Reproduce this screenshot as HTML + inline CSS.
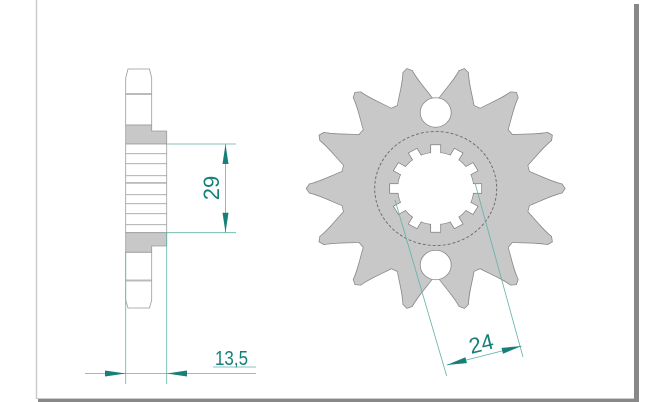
<!DOCTYPE html>
<html><head><meta charset="utf-8"><style>
html,body{margin:0;padding:0;background:#fff;}
svg{display:block;}
text{font-family:"Liberation Sans",sans-serif;}
</style></head><body>
<svg width="670" height="402" viewBox="0 0 670 402" xmlns="http://www.w3.org/2000/svg">
<defs>
<path id="tooth" d="M82,-22 C100,-16 112,-8 126,-4.5 L129,0 L126,4.5 C112,8 100,16 82,22 Z"/>
<g id="gear">
<circle r="95"/>
<use href="#tooth"/>
<use href="#tooth" transform="rotate(25.714)"/>
<use href="#tooth" transform="rotate(51.429)"/>
<use href="#tooth" transform="rotate(77.143)"/>
<use href="#tooth" transform="rotate(102.857)"/>
<use href="#tooth" transform="rotate(128.571)"/>
<use href="#tooth" transform="rotate(154.286)"/>
<use href="#tooth" transform="rotate(180)"/>
<use href="#tooth" transform="rotate(205.714)"/>
<use href="#tooth" transform="rotate(231.429)"/>
<use href="#tooth" transform="rotate(257.143)"/>
<use href="#tooth" transform="rotate(282.857)"/>
<use href="#tooth" transform="rotate(308.571)"/>
<use href="#tooth" transform="rotate(334.286)"/>
</g>
<rect id="slot" x="-5" y="-46" width="10" height="12"/>
</defs>
<!-- frame -->
<rect x="634" y="4" width="5" height="398" fill="#888"/>
<rect x="38" y="399" width="600" height="3" fill="#888"/>
<line x1="36.5" y1="0" x2="36.5" y2="399" stroke="#ccc" stroke-width="1.5"/>
<line x1="36" y1="398.5" x2="634" y2="398.5" stroke="#ccc" stroke-width="1"/>

<!-- gear -->
<g transform="translate(435.7,188.5) scale(1,0.95)">
<use href="#gear" fill="#888" stroke="#888" stroke-width="1.6"/>
<use href="#gear" fill="#c8c8c8"/>
<circle cx="0" cy="-80" r="15.5" fill="#fff" stroke="#888" stroke-width="0.8"/>
<circle cx="0" cy="80.5" r="15.5" fill="#fff" stroke="#888" stroke-width="0.8"/>
<ellipse cx="0" cy="0" rx="61" ry="60" fill="none" stroke="#666" stroke-width="0.9" stroke-dasharray="3,2"/>
<g fill="#fff" stroke="#777" stroke-width="0.7">
<circle r="38"/>
<use href="#slot"/><use href="#slot" transform="rotate(30)"/><use href="#slot" transform="rotate(60)"/>
<use href="#slot" transform="rotate(90)"/><use href="#slot" transform="rotate(120)"/><use href="#slot" transform="rotate(150)"/>
<use href="#slot" transform="rotate(180)"/><use href="#slot" transform="rotate(210)"/><use href="#slot" transform="rotate(240)"/>
<use href="#slot" transform="rotate(270)"/><use href="#slot" transform="rotate(300)"/><use href="#slot" transform="rotate(330)"/>
</g>
<circle r="37.6" fill="#fff"/>
</g>

<!-- side view -->
<g stroke="#999" stroke-width="0.8">
<path d="M128,69 L149.5,69 L151.7,78 L151.7,125 L125.7,125 L125.7,78 Z" fill="#fff"/>
<path d="M125.7,125 L151.7,125 L151.7,131 L166.7,131 L166.7,144 L125.7,144 Z" fill="#c8c8c8"/>
<rect x="125.7" y="144" width="41" height="88.7" fill="#fff"/>
<path d="M125.7,232.7 L166.7,232.7 L166.7,246 L151.7,246 L151.7,252.3 L125.7,252.3 Z" fill="#c8c8c8"/>
<path d="M125.7,252.3 L151.7,252.3 L151.7,300 L149.5,308 L128,308 L125.7,300 Z" fill="#fff"/>
</g>
<g fill="#bbb">
<rect x="126" y="93" width="25.5" height="2"/>
<rect x="126" y="279.5" width="25.5" height="2"/>
<rect x="126" y="153" width="40.5" height="1.2"/>
<rect x="126" y="163" width="40.5" height="1.2"/>
<rect x="126" y="175" width="40.5" height="1.2"/>
<rect x="126" y="182" width="40.5" height="1.8"/>
<rect x="126" y="194" width="40.5" height="1.2"/>
<rect x="126" y="203" width="40.5" height="1.2"/>
<rect x="126" y="213" width="40.5" height="1.2"/>
<rect x="126" y="224" width="40.5" height="1.2"/>
</g>

<!-- dimension lines -->
<g stroke="#5fb3a8" stroke-width="0.8" fill="none">
<line x1="125.7" y1="252" x2="125.7" y2="384"/>
<line x1="166.7" y1="232" x2="166.7" y2="384"/>
<line x1="85" y1="373.5" x2="256" y2="373.5"/>
<line x1="213" y1="367" x2="256" y2="367"/>
<line x1="167" y1="144" x2="236" y2="144"/>
<line x1="167" y1="232.7" x2="236" y2="232.7"/>
<line x1="225.5" y1="144" x2="225.5" y2="232.7"/>
<line x1="395" y1="200" x2="446.7" y2="376"/>
<line x1="475" y1="183" x2="523" y2="357"/>
<line x1="446.7" y1="365" x2="521.7" y2="346"/>
</g>
<g fill="#168078">
<polygon points="125.7,373.5 105,370.5 105,376.5"/>
<polygon points="166.7,373.5 187,370.5 187,376.5"/>
<polygon points="225.5,144 222.5,164 228.5,164"/>
<polygon points="225.5,232.7 222.5,212.7 228.5,212.7"/>
<polygon points="446.7,365 465.4,357.3 466.9,363.1"/>
<polygon points="521.7,346 501.5,347.9 503,353.7"/>
</g>
<g fill="#168078" font-size="20">
<text x="215" y="365" textLength="33" lengthAdjust="spacingAndGlyphs">13,5</text>
<text transform="translate(219,188) rotate(-90)" text-anchor="middle" font-size="22">29</text>
<text transform="translate(483,351) rotate(-14)" text-anchor="middle" font-size="22">24</text>
</g>
</svg>
</body></html>
